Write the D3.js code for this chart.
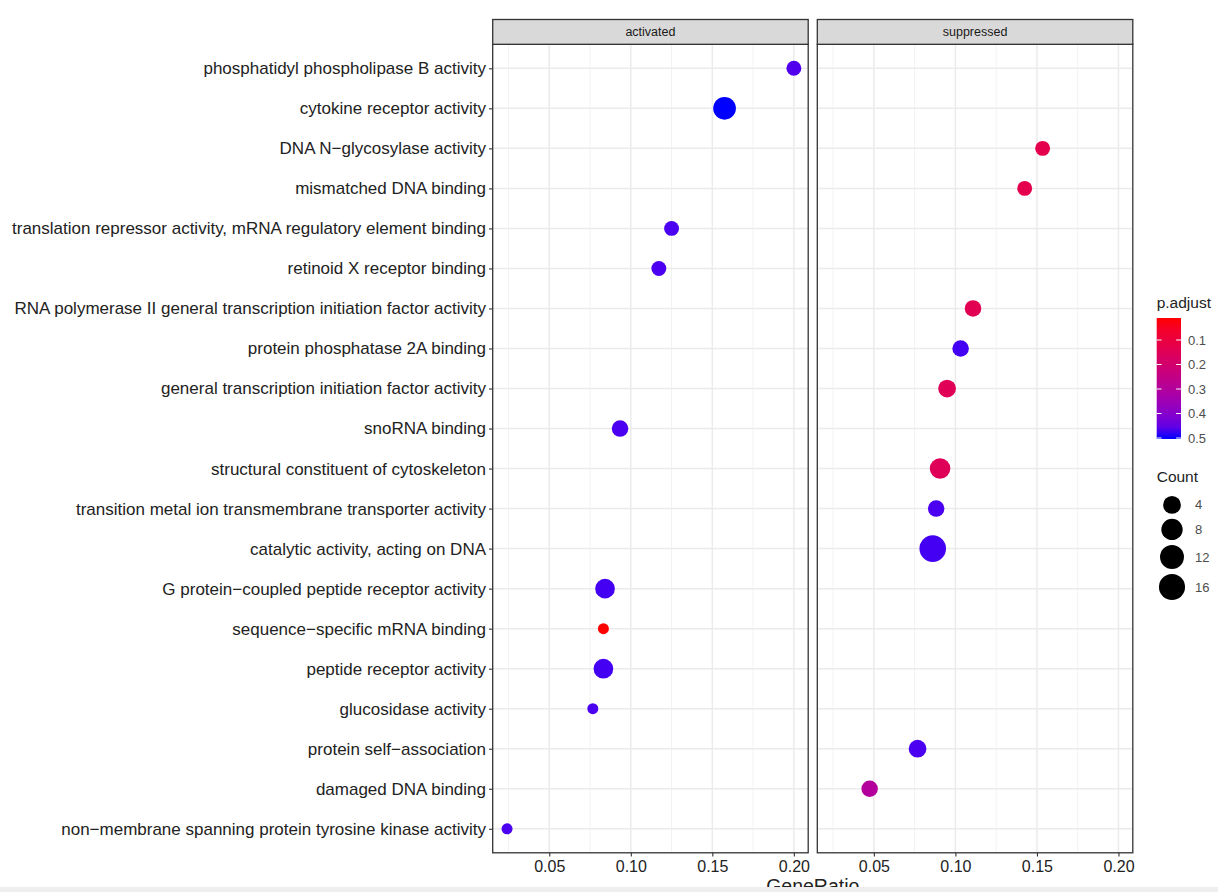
<!DOCTYPE html>
<html>
<head>
<meta charset="utf-8">
<script src="https://cdn.jsdelivr.net/npm/d3@7"></script>
<style>
    body { margin: 0; background: #ffffff; }
    svg { display: block; font-family: 'Liberation Sans', Arial, sans-serif; }
</style>
</head>
<body>
<div id="chart"></div>
<script>
// GO terms, top to bottom
const TERMS = [
    'phosphatidyl phospholipase B activity',
    'cytokine receptor activity',
    'DNA N\u2212glycosylase activity',
    'mismatched DNA binding',
    'translation repressor activity, mRNA regulatory element binding',
    'retinoid X receptor binding',
    'RNA polymerase II general transcription initiation factor activity',
    'protein phosphatase 2A binding',
    'general transcription initiation factor activity',
    'snoRNA binding',
    'structural constituent of cytoskeleton',
    'transition metal ion transmembrane transporter activity',
    'catalytic activity, acting on DNA',
    'G protein\u2212coupled peptide receptor activity',
    'sequence\u2212specific mRNA binding',
    'peptide receptor activity',
    'glucosidase activity',
    'protein self\u2212association',
    'damaged DNA binding',
    'non\u2212membrane spanning protein tyrosine kinase activity'
];
const PANELS = ['activated', 'suppressed'];
const TERM_PANEL = [
    'activated', 'activated', 'suppressed', 'suppressed', 'activated',
    'activated', 'suppressed', 'suppressed', 'suppressed', 'activated',
    'suppressed', 'suppressed', 'suppressed', 'activated', 'activated',
    'activated', 'activated', 'suppressed', 'suppressed', 'activated'
];
const GENE_RATIO = [
    0.2, 0.1575, 0.1535, 0.1425, 0.125,
    0.1172, 0.1108, 0.1032, 0.0949, 0.0934,
    0.0906, 0.0882, 0.0861, 0.0842, 0.0832,
    0.0832, 0.0767, 0.0768, 0.0474, 0.0241
];
const COUNTS = [2, 10, 2, 2, 2, 2, 3, 3, 4, 3, 7, 3, 17, 6, 1, 6, 1, 4, 3, 1];
const P_ADJUST = [
    0.47, 0.504, 0.13, 0.13, 0.475,
    0.475, 0.14, 0.48, 0.145, 0.475,
    0.15, 0.475, 0.48, 0.48, 0.0102,
    0.48, 0.475, 0.475, 0.3, 0.475
];
const X_TICKS = [0.05, 0.10, 0.15, 0.20];
const P_BREAKS = [0.1, 0.2, 0.3, 0.4, 0.5];
const COUNT_BREAKS = [4, 8, 12, 16];

const WIDTH = 1218;
const HEIGHT = 892;
const panelTop = 44.3;
const panelBottom = 852.8;
const panelWidth = 315.5;
const panelLefts = [492.7, 817.3];
const stripTop = 19.5;

const dots = TERMS.map((term, i) => ({
    term,
    panel: TERM_PANEL[i],
    ratio: GENE_RATIO[i],
    count: COUNTS[i],
    p: P_ADJUST[i]
}));

const svg = d3.select('#chart').append('svg')
    .attr('width', WIDTH)
    .attr('height', HEIGHT);

// shared x domain with ggplot's 5% expansion
const [xMin, xMax] = d3.extent(GENE_RATIO);
const xPad = (xMax - xMin) * 0.05;

const yScale = d3.scalePoint()
    .domain(TERMS)
    .range([panelTop, panelBottom])
    .padding(0.6);

const colorScale = d3.scaleLinear()
    .domain(d3.extent(P_ADJUST))
    .range(['#ff0000', '#0000ff'])
    .interpolate(d3.interpolateLab);

// ggplot-style area scale: radius grows with sqrt of rescaled count
const countToUnit = d3.scaleLinear().domain(d3.extent(COUNTS)).range([0, 1]);
const unitToRadius = d3.scaleSqrt().domain([0, 1]).range([5.5, 13.3]);
const radius = (count) => unitToRadius(countToUnit(count));

const minorTicks = [X_TICKS[0] - 0.025, ...X_TICKS.map((t) => t + 0.025)]
    .filter((t) => t > xMin - xPad && t < xMax + xPad);

PANELS.forEach((panel, pi) => {
    const left = panelLefts[pi];
    const xScale = d3.scaleLinear()
        .domain([xMin - xPad, xMax + xPad])
        .range([left, left + panelWidth]);

    const g = svg.append('g').attr('class', `panel-${panel}`);

    g.append('rect')
        .attr('x', left)
        .attr('y', panelTop)
        .attr('width', panelWidth)
        .attr('height', panelBottom - panelTop)
        .attr('fill', '#ffffff');

    g.selectAll('.grid-minor')
        .data(minorTicks)
        .enter()
        .append('line')
        .attr('x1', (d) => xScale(d))
        .attr('x2', (d) => xScale(d))
        .attr('y1', panelTop)
        .attr('y2', panelBottom)
        .attr('stroke', '#f2f2f2')
        .attr('stroke-width', 1);

    g.selectAll('.grid-x')
        .data(X_TICKS)
        .enter()
        .append('line')
        .attr('x1', (d) => xScale(d))
        .attr('x2', (d) => xScale(d))
        .attr('y1', panelTop)
        .attr('y2', panelBottom)
        .attr('stroke', '#ebebeb')
        .attr('stroke-width', 1.5);

    g.selectAll('.grid-y')
        .data(TERMS)
        .enter()
        .append('line')
        .attr('x1', left)
        .attr('x2', left + panelWidth)
        .attr('y1', (d) => yScale(d))
        .attr('y2', (d) => yScale(d))
        .attr('stroke', '#ebebeb')
        .attr('stroke-width', 1.5);

    g.selectAll('circle')
        .data(dots.filter((d) => d.panel === panel))
        .enter()
        .append('circle')
        .attr('cx', (d) => xScale(d.ratio))
        .attr('cy', (d) => yScale(d.term))
        .attr('r', (d) => radius(d.count))
        .attr('fill', (d) => colorScale(d.p));

    g.append('rect')
        .attr('x', left)
        .attr('y', panelTop)
        .attr('width', panelWidth)
        .attr('height', panelBottom - panelTop)
        .attr('fill', 'none')
        .attr('stroke', '#333333')
        .attr('stroke-width', 1.3);

    // facet strip
    g.append('rect')
        .attr('x', left)
        .attr('y', stripTop)
        .attr('width', panelWidth)
        .attr('height', panelTop - stripTop)
        .attr('fill', '#d9d9d9')
        .attr('stroke', '#333333')
        .attr('stroke-width', 1.3);

    g.append('text')
        .attr('x', left + panelWidth / 2)
        .attr('y', (stripTop + panelTop) / 2)
        .attr('text-anchor', 'middle')
        .attr('dominant-baseline', 'central')
        .attr('font-size', 12.5)
        .attr('fill', '#1a1a1a')
        .text(panel);

    g.append('g')
        .attr('transform', `translate(0,${panelBottom})`)
        .call(d3.axisBottom(xScale).tickValues(X_TICKS).tickFormat(d3.format('.2f')).tickSizeOuter(0).tickSize(3.7).tickPadding(4))
        .call((axis) => axis.select('.domain').remove())
        .call((axis) => axis.selectAll('line').attr('stroke', '#333333').attr('stroke-width', 1.1))
        .call((axis) => axis.selectAll('text')
            .attr('fill', '#222222')
            .attr('font-size', 16)
            .attr('font-family', 'Liberation Sans, Arial, sans-serif'));
});

svg.append('g')
    .attr('transform', `translate(${panelLefts[0]},0)`)
    .call(d3.axisLeft(yScale).tickSizeOuter(0).tickSize(3.7).tickPadding(3))
    .call((axis) => axis.select('.domain').remove())
    .call((axis) => axis.selectAll('line').attr('stroke', '#333333').attr('stroke-width', 1.1))
    .call((axis) => axis.selectAll('text')
        .attr('fill', '#222222')
        .attr('font-size', 17)
        .attr('font-family', 'Liberation Sans, Arial, sans-serif'));

svg.append('text')
    .attr('x', (panelLefts[0] + panelLefts[1] + panelWidth) / 2)
    .attr('y', 893)
    .attr('text-anchor', 'middle')
    .attr('font-size', 19.5)
    .attr('fill', '#222222')
    .text('GeneRatio');

// colour bar legend
const barX = 1156.7;
const barW = 24.3;
const barTop = 318;
const barBottom = 439;
const pScale = d3.scaleLinear().domain(d3.extent(P_ADJUST)).range([barTop, barBottom]);

const defs = svg.append('defs');
const gradient = defs.append('linearGradient')
    .attr('id', 'p-gradient')
    .attr('x1', 0).attr('x2', 0).attr('y1', 0).attr('y2', 1);
d3.range(0, 1.0001, 0.1).forEach((t) => {
    const domain = colorScale.domain();
    gradient.append('stop')
        .attr('offset', t)
        .attr('stop-color', colorScale(domain[0] + t * (domain[1] - domain[0])));
});

svg.append('text')
    .attr('x', barX)
    .attr('y', 308)
    .attr('font-size', 15.5)
    .attr('fill', '#222222')
    .text('p.adjust');

svg.append('rect')
    .attr('x', barX)
    .attr('y', barTop)
    .attr('width', barW)
    .attr('height', barBottom - barTop)
    .attr('fill', 'url(#p-gradient)');

const pTicks = svg.append('g');
P_BREAKS.forEach((b) => {
    const y = pScale(b);
    pTicks.append('line')
        .attr('x1', barX).attr('x2', barX + barW / 5)
        .attr('y1', y).attr('y2', y)
        .attr('stroke', '#ffffff').attr('stroke-width', 1);
    pTicks.append('line')
        .attr('x1', barX + barW - barW / 5).attr('x2', barX + barW)
        .attr('y1', y).attr('y2', y)
        .attr('stroke', '#ffffff').attr('stroke-width', 1);
    pTicks.append('text')
        .attr('x', barX + barW + 7)
        .attr('y', y)
        .attr('dominant-baseline', 'central')
        .attr('font-size', 13)
        .attr('fill', '#4d4d4d')
        .text(d3.format('.1f')(b));
});

// size legend
svg.append('text')
    .attr('x', barX)
    .attr('y', 482)
    .attr('font-size', 15.5)
    .attr('fill', '#222222')
    .text('Count');

let keyY = 496;
const sizeKeys = COUNT_BREAKS.map((c) => {
    const r = radius(c);
    const cy = keyY + r;
    keyY = cy + r + 5;
    return { c, r, cy };
});

svg.append('g')
    .selectAll('circle')
    .data(sizeKeys)
    .enter()
    .append('circle')
    .attr('cx', 1172)
    .attr('cy', (d) => d.cy)
    .attr('r', (d) => d.r)
    .attr('fill', '#000000');

svg.append('g')
    .selectAll('text')
    .data(sizeKeys)
    .enter()
    .append('text')
    .attr('x', 1195)
    .attr('y', (d) => d.cy)
    .attr('dominant-baseline', 'central')
    .attr('font-size', 13)
    .attr('fill', '#4d4d4d')
    .text((d) => d.c);

// grey strip along the bottom edge of the original screenshot
svg.append('rect')
    .attr('x', 0)
    .attr('y', 887)
    .attr('width', WIDTH)
    .attr('height', 5)
    .attr('fill', '#eeeeee');
</script>
</body>
</html>
